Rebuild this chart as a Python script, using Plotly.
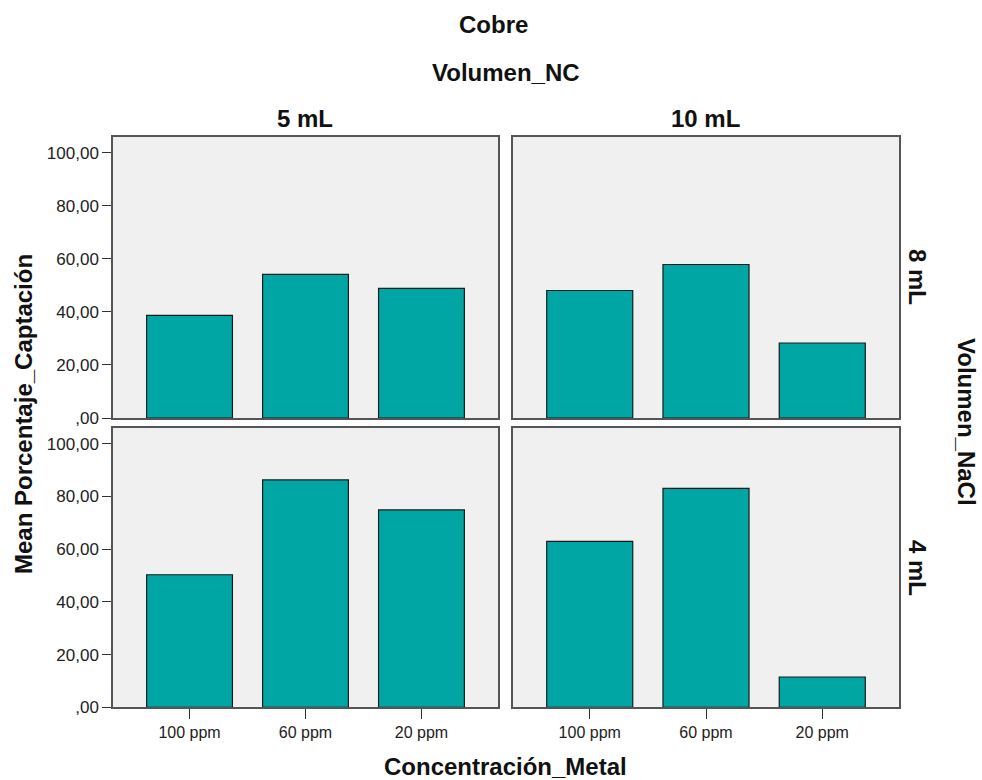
import plotly.graph_objects as go

categories = ["100 ppm", "60 ppm", "20 ppm"]
col_labels = ["5 mL", "10 mL"]
row_labels = ["8 mL", "4 mL"]
vals_8mL_5mL = [38.7, 54.2, 48.9]
vals_8mL_10mL = [48.1, 57.9, 28.3]
vals_4mL_5mL = [50.3, 86.3, 74.9]
vals_4mL_10mL = [63.0, 83.1, 11.5]
ytick_vals = [0, 20, 40, 60, 80, 100]
ytick_text = [",00", "20,00", "40,00", "60,00", "80,00", "100,00"]

W, H = 982, 780
xdom = [[113 / W, 498 / W], [513 / W, 899 / W]]
ydom = [[1 - 418 / H, 1 - 137 / H], [1 - 707.3 / H, 1 - 428 / H]]

panels = [
    (0, 0, vals_8mL_5mL),
    (0, 1, vals_8mL_10mL),
    (1, 0, vals_4mL_5mL),
    (1, 1, vals_4mL_10mL),
]

FONT = "Liberation Sans, Arial, sans-serif"
fig = go.Figure()
layout = {}
for i, (r, c, v) in enumerate(panels):
    n = i + 1
    xa = "x" if n == 1 else f"x{n}"
    ya = "y" if n == 1 else f"y{n}"
    fig.add_trace(go.Bar(
        x=categories, y=v, xaxis=xa, yaxis=ya, width=0.74,
        marker=dict(color="#00A6A3", line=dict(color="#1a1a1a", width=1.2)),
        showlegend=False,
    ))
    xkey = "xaxis" if n == 1 else f"xaxis{n}"
    ykey = "yaxis" if n == 1 else f"yaxis{n}"
    layout[xkey] = dict(
        domain=xdom[c], anchor=ya, type="category", range=[-0.66, 2.66],
        showline=True, mirror=True, linecolor="#555555", linewidth=1.5,
        showgrid=False, zeroline=False, automargin=False,
        ticks="outside" if r == 1 else "", ticklen=10, tickcolor="#333333",
        showticklabels=(r == 1),
        tickfont=dict(family=FONT, size=16, color="#222222"),
    )
    layout[ykey] = dict(
        domain=ydom[r], anchor=xa, range=[0, 106],
        showline=True, mirror=True, linecolor="#555555", linewidth=1.5,
        showgrid=False, zeroline=False, automargin=False,
        tickvals=ytick_vals, ticktext=ytick_text,
        ticks="outside" if c == 0 else "", ticklen=9, tickcolor="#333333",
        showticklabels=(c == 0),
        tickfont=dict(family=FONT, size=17, color="#222222"),
    )

fig.update_layout(
    width=W, height=H, margin=dict(l=0, r=0, t=0, b=0),
    paper_bgcolor="white", plot_bgcolor="#F0F0F0",
    font=dict(family=FONT, color="#111111"),
    **layout,
)

bold = dict(family=FONT, size=24, color="#111111")
ann = [
    dict(text="<b>Cobre</b>", x=493 / W, y=1 - 24 / H),
    dict(text="<b>Volumen_NC</b>", x=506 / W, y=1 - 72 / H),
    dict(text=f"<b>{col_labels[0]}</b>", x=305 / W, y=1 - 118 / H),
    dict(text=f"<b>{col_labels[1]}</b>", x=705 / W, y=1 - 118 / H),
    dict(text=f"<b>{row_labels[0]}</b>", x=918 / W, y=1 - 277 / H, textangle=90),
    dict(text=f"<b>{row_labels[1]}</b>", x=918 / W, y=1 - 568 / H, textangle=90),
    dict(text="<b>Volumen_NaCl</b>", x=967 / W, y=1 - 422 / H, textangle=90),
    dict(text="<b>Mean Porcentaje_Captación</b>", x=23 / W, y=1 - 414 / H, textangle=-90),
    dict(text="<b>Concentración_Metal</b>", x=505 / W, y=1 - 766 / H),
]
for a in ann:
    a.update(xref="paper", yref="paper", showarrow=False, font=bold,
             xanchor="center", yanchor="middle")
fig.update_layout(annotations=ann)

fig.write_html("out.html", config={"displayModeBar": False},
               post_script="document.body.style.margin='0';")
